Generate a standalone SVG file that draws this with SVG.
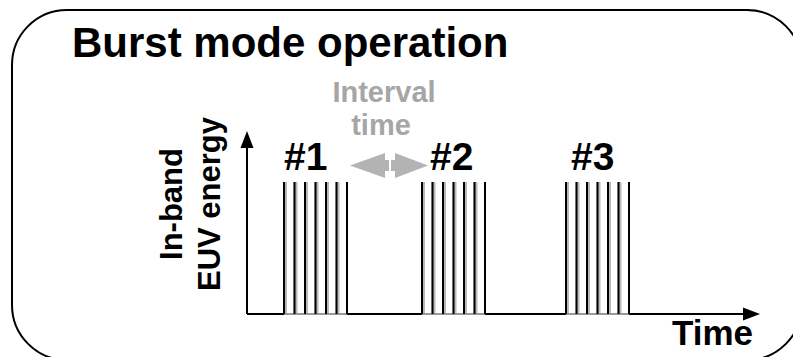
<svg xmlns="http://www.w3.org/2000/svg" width="793" height="357" viewBox="0 0 793 357">
<defs>
<style>
.t{font-family:"Liberation Sans",Arial,sans-serif;font-weight:bold;fill:#000}
.g{fill:#a6a6a6}
.ln{stroke:#000;stroke-width:2;fill:none}
.bar{stroke:#000;stroke-width:2}
.sh{stroke:#b8b8b8;stroke-width:4}
</style>
<g id="burst">
<line class="sh" x1="1" y1="182" x2="1" y2="314"/>
<line class="sh" x1="11.5" y1="182" x2="11.5" y2="314"/>
<line class="sh" x1="22" y1="182" x2="22" y2="314"/>
<line class="sh" x1="32.5" y1="182" x2="32.5" y2="314"/>
<line class="sh" x1="43" y1="182" x2="43" y2="314"/>
<line class="sh" x1="53.5" y1="182" x2="53.5" y2="314"/>
<line x1="0" y1="314" x2="63" y2="314" stroke="#999" stroke-width="2"/>
<line class="bar" x1="0" y1="182" x2="0" y2="314"/>
<line class="bar" x1="10.5" y1="182" x2="10.5" y2="314" stroke="#333"/>
<line class="bar" x1="21" y1="182" x2="21" y2="314" stroke="#333"/>
<line class="bar" x1="31.5" y1="182" x2="31.5" y2="314" stroke="#333"/>
<line class="bar" x1="42" y1="182" x2="42" y2="314" stroke="#333"/>
<line class="bar" x1="52.5" y1="182" x2="52.5" y2="314" stroke="#333"/>
<line class="bar" x1="63" y1="182" x2="63" y2="314"/>
</g>
</defs>
<rect id="frame" x="12" y="10" width="790" height="350" rx="55" ry="55" fill="#fff" stroke="#000" stroke-width="2"/>
<text id="title" class="t" x="72" y="57" font-size="42">Burst mode operation</text>
<g id="ylabel">
<text class="t" font-size="31" text-anchor="middle" transform="translate(182,204) rotate(-90)">In-band</text>
<text class="t" font-size="31" text-anchor="middle" transform="translate(220,204) rotate(-90)">EUV energy</text>
</g>
<g id="interval">
<text class="t g" font-size="29" text-anchor="middle" x="384" y="102">Interval</text>
<text class="t g" font-size="29" text-anchor="middle" x="381" y="135">time</text>
<polygon fill="#b3b3b3" points="350,165.5 385,153 385,160 389,160 389,171 385,171 385,178"/>
<polygon fill="#b3b3b3" points="428,165.5 395,153 395,160 391,160 391,171 395,171 395,178"/>
</g>
<g id="connectors">
<path class="ln" d="M247,314 V146"/>
<polygon points="247,131 240.5,148 253.5,148" fill="#000"/>
<path class="ln" d="M247,314 H744"/>
<polygon points="760,314 743,307.5 743,320.5" fill="#000"/>
<path class="ln" d="M247,314 H284"/>
<path class="ln" d="M347,314 H422"/>
<path class="ln" d="M485,314 H566"/>
<path class="ln" d="M629,314 H744"/>
</g>
<g id="b1"><use href="#burst" transform="translate(284,0)"/><text class="t" font-size="39" x="284" y="170">#1</text></g>
<g id="b2"><use href="#burst" transform="translate(422,0)"/><text class="t" font-size="39" x="430" y="170">#2</text></g>
<g id="b3"><use href="#burst" transform="translate(566,0)"/><text class="t" font-size="39" x="571" y="170">#3</text></g>
<text id="time" class="t" font-size="35" x="672" y="345">Time</text>
</svg>
